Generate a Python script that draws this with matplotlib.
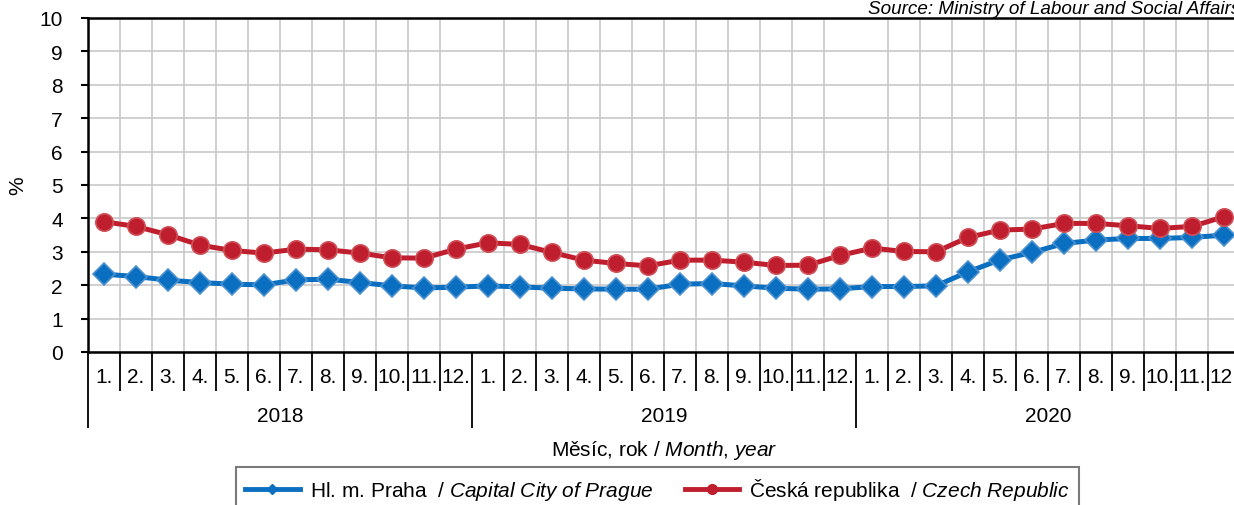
import numpy as np
import matplotlib.pyplot as plt
from matplotlib import transforms
from matplotlib.lines import Line2D

plt.rcParams['font.family'] = 'Liberation Sans'
plt.rcParams['mathtext.fontset'] = 'custom'
plt.rcParams['mathtext.rm'] = 'Liberation Sans'
plt.rcParams['mathtext.it'] = 'Liberation Sans:italic'

years = ['2018', '2019', '2020']
months = ['1.', '2.', '3.', '4.', '5.', '6.', '7.', '8.', '9.', '10.', '11.', '12.']

# podil nezamestnanych osob (%)
praha = [2.33, 2.26, 2.15, 2.08, 2.03, 2.01, 2.16, 2.18, 2.08, 1.98, 1.92, 1.94,
         1.98, 1.95, 1.91, 1.89, 1.88, 1.88, 2.03, 2.05, 1.98, 1.91, 1.88, 1.89,
         1.96, 1.96, 1.98, 2.40, 2.76, 2.98, 3.25, 3.35, 3.40, 3.40, 3.43, 3.50]
cr = [3.90, 3.76, 3.51, 3.20, 3.04, 2.96, 3.08, 3.06, 2.96, 2.82, 2.81, 3.08,
      3.27, 3.22, 2.98, 2.75, 2.65, 2.58, 2.75, 2.75, 2.69, 2.59, 2.60, 2.89,
      3.11, 3.01, 3.00, 3.43, 3.65, 3.68, 3.85, 3.85, 3.78, 3.70, 3.76, 4.05]

blue = '#0a6fc0'
red = '#be1e2d'
fs = 15

W, H = 1234, 506
fig = plt.figure(figsize=(W / 100, H / 100), dpi=100)
ax = fig.add_axes([88 / W, 1 - 353 / H, 1152 / W, 334 / H])

n = len(praha)
x = np.arange(n)
ax.plot(x, praha, color=blue, lw=3.6, marker='D', ms=11.5,
        mfc=blue, mec='#4a8fd0', mew=1.2, zorder=3, clip_on=False)
ax.plot(x, cr, color=red, lw=3.6, marker='o', ms=12.5,
        mfc=red, mec='#d05058', mew=1.2, zorder=3, clip_on=False)

ax.set_xlim(-0.5, n - 0.5)
ax.set_ylim(0, 10)
ax.set_yticks(range(0, 11))
ax.tick_params(axis='y', labelsize=fs, length=5, width=1.5, pad=13)

# hranice mesicu a roku
ax.set_xticks(np.arange(-0.5, n, 12))
ax.set_xticks(np.arange(-0.5, n, 1), minor=True)
ax.tick_params(axis='x', which='major', length=55, width=1.3, labelbottom=False)
ax.tick_params(axis='x', which='minor', length=28, width=1.3, labelbottom=False)

ax.grid(True, which='minor', axis='x', color='#c8c8c8', lw=1.2)
ax.grid(True, which='major', axis='y', color='#c8c8c8', lw=1.2)
ax.set_axisbelow(True)

for s in ax.spines.values():
    s.set_linewidth(1.8)
    s.set_color('black')

tr = transforms.blended_transform_factory(ax.transData, ax.transAxes)
for i in range(n):
    ax.text(i, -0.072, months[i % 12], transform=tr, ha='center', va='center',
            fontsize=fs, clip_on=False)
for j, yr in enumerate(years):
    ax.text(j * 12 + 5.5, -0.19, yr, transform=tr, ha='center', va='center',
            fontsize=fs)

ax.text(0.5, -0.292, r'Měsíc, rok / $\mathit{Month{,}\ year}$', transform=ax.transAxes,
        ha='center', va='center', fontsize=fs)
fig.text(18 / W, 1 - 186 / H, '%', rotation=90, ha='center', va='center', fontsize=fs)
fig.text(1240 / W, 1 - 9 / H, 'Source: Ministry of Labour and Social Affairs',
         ha='right', va='center', fontsize=13.6, style='italic')

handles = [
    Line2D([], [], color=blue, lw=3.5, marker='D', ms=5, mfc=blue, mec=blue),
    Line2D([], [], color=red, lw=3.5, marker='o', ms=7, mfc=red, mec=red),
]
labels = [r'Hl. m. Praha  $\mathit{/\ Capital\ City\ of\ Prague}$',
          r'Česká republika  $\mathit{/\ Czech\ Republic}$']
leg = fig.legend(handles, labels, loc='upper left',
                 bbox_to_anchor=(236 / W, 1 - 468 / H), ncol=2, fontsize=fs,
                 frameon=True, fancybox=False, handlelength=2.6,
                 columnspacing=1.5, borderpad=0.45, handletextpad=0.5,
                 borderaxespad=0)
leg.get_frame().set_edgecolor('#595959')
leg.get_frame().set_linewidth(1.5)

fig.savefig('out.png', dpi=100)
